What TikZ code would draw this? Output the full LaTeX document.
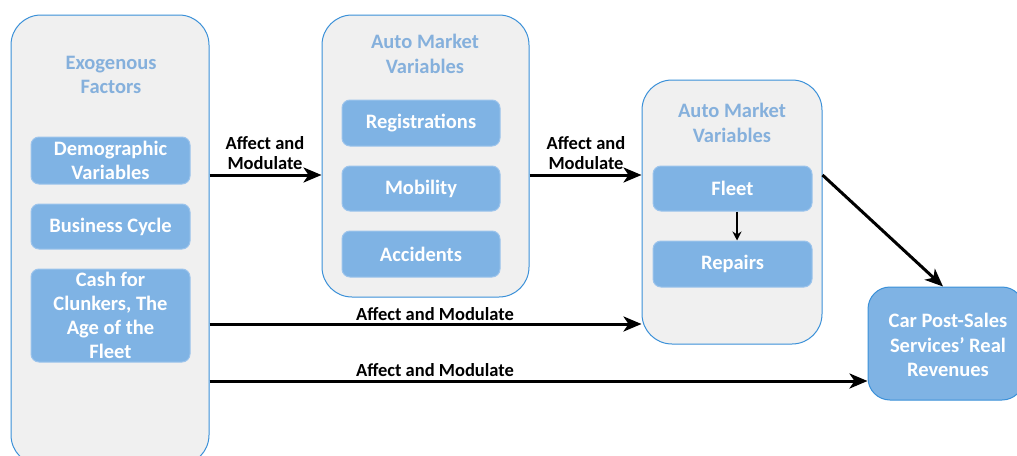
\documentclass[tikz,border=0pt]{standalone}
\usepackage{fontspec}
\setmainfont{Carlito}
\usetikzlibrary{arrows.meta}
\definecolor{panelfill}{HTML}{F0F0F0}
\definecolor{panelline}{HTML}{3A90D8}
\definecolor{itemfill}{HTML}{7FB3E4}
\definecolor{itemline}{HTML}{9CC4EC}
\definecolor{titlecol}{HTML}{85B0DC}
\tikzset{
  panel/.style={draw=panelline, line width=1pt, fill=panelfill, rounded corners=30pt, inner sep=0pt},
  item/.style={draw=itemline, line width=1pt, fill=itemfill, rounded corners=8pt, text=white, font=\bfseries\fontsize{20.5}{24}\selectfont, align=center, inner sep=0pt},
  ptitle/.style={text=titlecol, font=\bfseries\fontsize{20.5}{24.5}\selectfont, align=center},
  arr/.style={line width=3pt, -{Stealth[length=18pt,width=15pt,inset=5pt]}},
  lbl/.style={font=\bfseries\fontsize{18.5}{20}\selectfont, align=center, text=black},
}
\begin{document}
\begin{tikzpicture}[x=1pt,y=-1pt]
\useasboundingbox (0,0) rectangle (1017,455);
\clip (0,0) rectangle (1017,455);
% panels
\node[panel, minimum width=198pt, minimum height=450pt] (left) at (110,240) {};
\node[panel, minimum width=207pt, minimum height=282pt] (mid) at (425.5,156) {};
\node[panel, minimum width=180pt, minimum height=264pt] (right) at (732,212) {};
\node[draw=panelline, line width=1pt, fill=itemfill, rounded corners=22pt, minimum width=156pt, minimum height=113pt] (car) at (946,343.5) {};
\node[text=white, font=\bfseries\fontsize{20.5}{24.5}\selectfont, align=center] (cartext) at (948,345) {Car Post-Sales\\Services’ Real\\Revenues};
% titles
\node[ptitle] (lefttitle) at (111,75) {Exogenous\\Factors};
\node[ptitle] (midtitle) at (425,54) {Auto Market\\Variables};
\node[ptitle] (righttitle) at (732,123) {Auto Market\\Variables};
% left items
\node[item, minimum width=159pt, minimum height=47pt] (demo) at (110.5,160.5) {Demographic\\Variables};
\node[item, minimum width=159pt, minimum height=45pt] (bus) at (110.5,226.5) {Business Cycle};
\node[item, minimum width=159pt, minimum height=93pt] (cash) at (110.5,315.5) {Cash for\\Clunkers, The\\Age of the\\Fleet};
% middle items
\node[item, minimum width=158pt, minimum height=46pt] (reg) at (421,123) {Registrations};
\node[item, minimum width=158pt, minimum height=45pt] (mob) at (421,188.5) {Mobility};
\node[item, minimum width=158pt, minimum height=46pt] (acc) at (421,254) {Accidents};
% right items
\node[item, minimum width=159pt, minimum height=45pt] (fleet) at (732.5,188.5) {Fleet};
\node[item, minimum width=159pt, minimum height=46pt] (rep) at (732.5,264) {Repairs};
% arrows
\draw[arr] (left.east |- 0,175) -- (mid.west |- 0,175);
\draw[arr] (mid.east |- 0,175) -- (right.west |- 0,175);
\draw[arr] (left.east |- 0,324) -- (right.west |- 0,324);
\draw[arr] (left.east |- 0,381) -- (car.west |- 0,381);
\draw[arr] (right.east |- 0,175) -- (car.north -| 943,0);
\draw[line width=1.5pt, -{Stealth[length=9pt,width=9pt,inset=3pt]}] (fleet.south -| 737,0) -- (rep.north -| 737,0);
% labels
\node[lbl] (l1) at (265,153) {Affect and\\Modulate};
\node[lbl] (l2) at (586,153) {Affect and\\Modulate};
\node[lbl] (l3) at (435,314) {Affect and Modulate};
\node[lbl] (l4) at (435,370) {Affect and Modulate};
\end{tikzpicture}
\end{document}
